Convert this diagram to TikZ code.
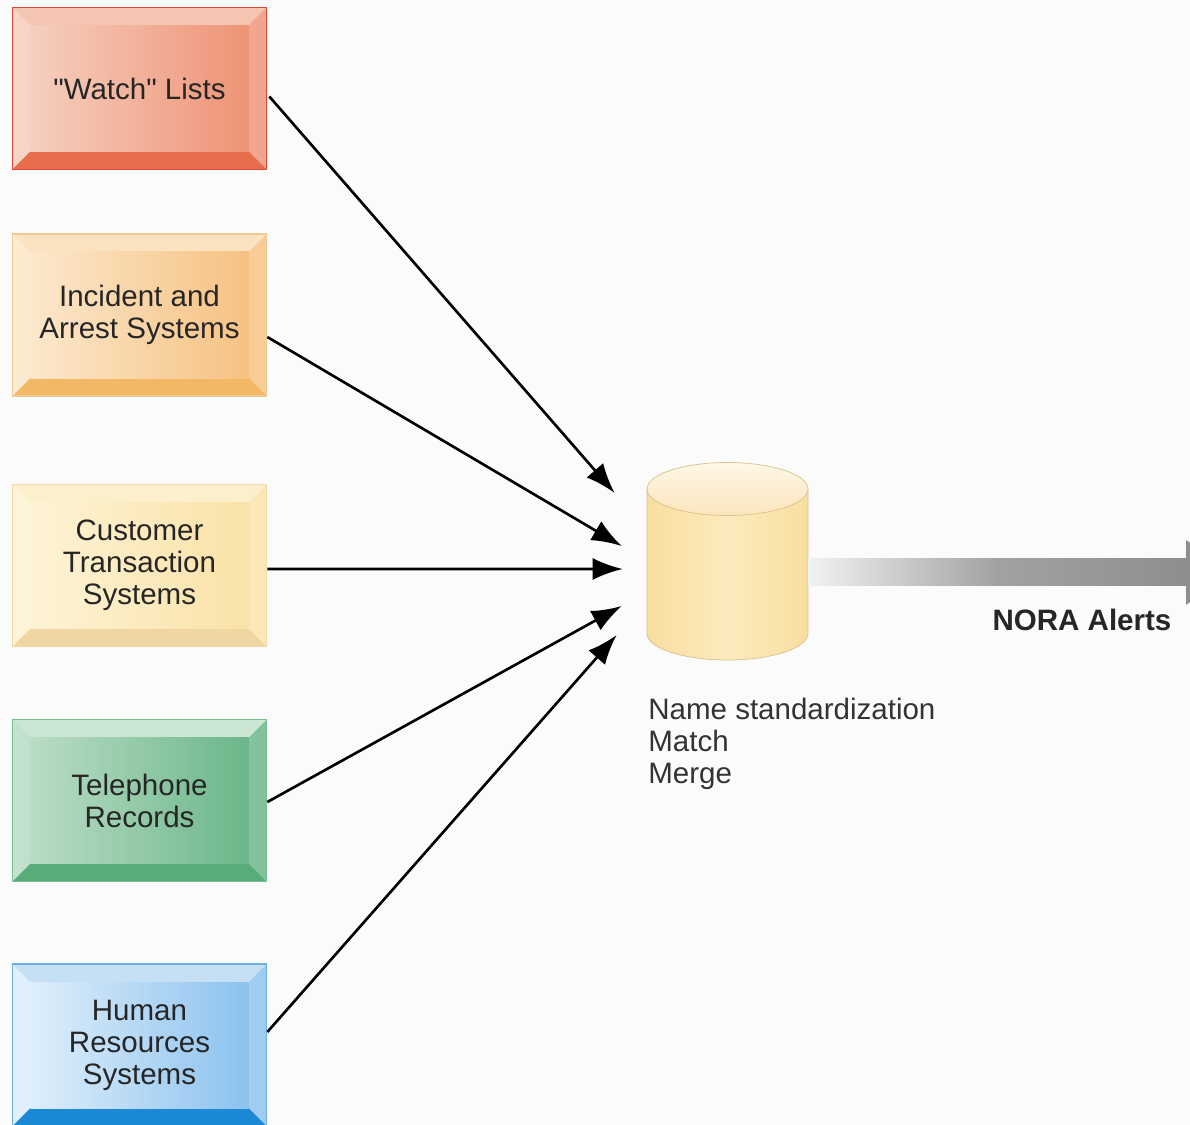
\documentclass[tikz,border=0pt]{standalone}
\usepackage{fontspec}
\setmainfont{Liberation Sans}[Ligatures=TeXOff]
\usepackage{tikz}
\usetikzlibrary{arrows.meta,calc}
\usepackage{xcolor}
\definecolor{paper}{HTML}{FBFBFB}
\definecolor{watchA}{HTML}{F6CFBE}
\definecolor{watchB}{HTML}{EE9376}
\definecolor{watchTop}{HTML}{F4C5B1}
\definecolor{watchBot}{HTML}{E86D4C}
\definecolor{watchLine}{HTML}{D94A3A}
\definecolor{incidentA}{HTML}{FCE7CB}
\definecolor{incidentB}{HTML}{F6C283}
\definecolor{incidentTop}{HTML}{FBE2C1}
\definecolor{incidentBot}{HTML}{F2B865}
\definecolor{incidentLine}{HTML}{F0C995}
\definecolor{customerA}{HTML}{FDF3D5}
\definecolor{customerB}{HTML}{FAE2A8}
\definecolor{customerTop}{HTML}{FCEFCC}
\definecolor{customerBot}{HTML}{EFD6A3}
\definecolor{customerLine}{HTML}{F2DBA8}
\definecolor{phoneA}{HTML}{BADDC5}
\definecolor{phoneB}{HTML}{6BB689}
\definecolor{phoneTop}{HTML}{CBE7D4}
\definecolor{phoneBot}{HTML}{58AC7A}
\definecolor{phoneLine}{HTML}{7CBE94}
\definecolor{humanA}{HTML}{DEEEFB}
\definecolor{humanB}{HTML}{8CC2EE}
\definecolor{humanTop}{HTML}{C5DFF5}
\definecolor{humanBot}{HTML}{1B89D6}
\definecolor{humanLine}{HTML}{6EAFE5}
\definecolor{dbSide}{HTML}{F8DE9F}
\definecolor{dbBody}{HTML}{FDEBBE}
\definecolor{dbTopA}{HTML}{FFF6E6}
\definecolor{dbTopB}{HTML}{FBE6BC}
\definecolor{dbLine}{HTML}{D9C08C}
\definecolor{noraA}{HTML}{F2F2F2}
\definecolor{noraB}{HTML}{8E8E8E}
\newcommand{\boxfont}{\fontsize{16.8}{18.2}\selectfont}
\tikzstyle{srcbox}=[minimum width=5.1cm, minimum height=3.26cm, inner sep=0pt, align=center, text=black!85, font=\boxfont]
\tikzstyle{dbnode}=[minimum width=3.22cm, minimum height=3.96cm, inner sep=0pt]
\tikzstyle{feed}=[line width=1.5pt, -{Latex[length=0.6cm,width=0.44cm]}]
\newcommand{\bevelBox}[3]{
	\shade[left color=#1A!85!white, right color=#1B!85!white] ($#2+(-127,-81)$) rectangle ($#2+(127,81)$);
	\fill[#1Top] ($#2+(-127,-81)$) -- ($#2+(127,-81)$) -- ($#2+(109,-63)$) -- ($#2+(-109,-63)$) -- cycle;
	\fill[#1Bot] ($#2+(-127,81)$) -- ($#2+(127,81)$) -- ($#2+(109,63)$) -- ($#2+(-109,63)$) -- cycle;
	\shade[left color=#1A, right color=#1B] ($#2+(-109,-63)$) rectangle ($#2+(109,63)$);
	\draw[#1Line, thick] ($#2+(-127,-81)$) rectangle ($#2+(127,81)$);
	\node[srcbox] (#1) at #2 {#3};
}

\begin{document}
\begin{tikzpicture}[x=0.02cm, y=-0.02cm]
	\fill[paper] (0,0) rectangle (1190,1125);
	\useasboundingbox (0,0) rectangle (1190,1125);
	\clip (0,0) rectangle (1190,1125);
	\bevelBox{watch}{(139.5,88.5)}{"Watch" Lists}
	\bevelBox{incident}{(139.5,315)}{Incident and\\Arrest Systems}
	\bevelBox{customer}{(139.5,565.5)}{Customer\\Transaction\\Systems}
	\bevelBox{phone}{(139.5,800.5)}{Telephone\\Records}
	\bevelBox{human}{(139.5,1045)}{Human\\Resources\\Systems}
	\shade[left color=dbSide, right color=dbSide, middle color=dbBody, draw=dbLine] (647,489) -- (647,633.5) arc[start angle=180, end angle=360, x radius=1.61cm, y radius=0.53cm] -- (808,489) -- cycle;
	\shade[top color=dbTopA, bottom color=dbTopB, draw=dbLine] (727.5,489) ellipse [x radius=1.61cm, y radius=0.53cm];
	\node[dbnode] (db) at (727.5,561) {};
	\node[anchor=north west, align=left, inner sep=0pt, font=\boxfont, text=black!80] (steps) at (648,698) {Name standardization\\Match\\Merge};
	\coordinate (in1) at ($(db.west)+(-32,-68)$);
	\coordinate (in2) at ($(db.west)+(-25,-15)$);
	\coordinate (in3) at ($(db.west)+(-24,8)$);
	\coordinate (in4) at ($(db.west)+(-25,45)$);
	\coordinate (in5) at ($(db.west)+(-30,74)$);
	\draw[feed] ($(watch.east)+(2,8)$) -- (in1);
	\draw[feed] ($(incident.east)+(0,22)$) -- (in2);
	\draw[feed] ($(customer.east)+(0,3.5)$) -- (in3);
	\draw[feed] ($(phone.east)+(0,1.5)$) -- (in4);
	\draw[feed] ($(human.east)+(0,-13)$) -- (in5);
	\coordinate (out) at (1186,571);
	\shade[left color=noraA, right color=noraB, middle color=noraB!80!noraA] ($(db.east)+(0,-3)$) rectangle ($(out)+(0,14)$);
	\fill[noraB] ($(out)+(0,-31)$) -- ($(out)+(45,0)$) -- ($(out)+(0,34)$) -- cycle;
	\node[font=\boxfont\bfseries, text=black!85] (alerts) at (1082,620) {NORA Alerts};
\end{tikzpicture}
\end{document}
